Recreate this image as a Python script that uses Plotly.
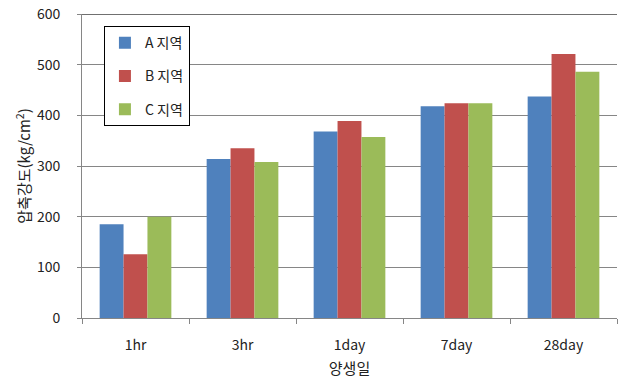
import plotly.graph_objects as go

# Curing age categories and compressive strength per region (kg/cm²)
curing_age = ["1hr", "3hr", "1day", "7day", "28day"]
region_a = [185, 314, 368, 418, 437]
region_b = [126, 335, 389, 424, 521]
region_c = [200, 308, 357, 424, 486]
series_names = ["A 지역", "B 지역", "C 지역"]
y_ticks = [0, 100, 200, 300, 400, 500, 600]

colors = ["#4F81BD", "#C0504D", "#9BBB59"]
font_family = "Noto Sans CJK KR, Noto Sans, DejaVu Sans, sans-serif"

fig = go.Figure()
for i, (name, vals) in enumerate(zip(series_names, [region_a, region_b, region_c])):
    fig.add_trace(go.Bar(
        x=curing_age, y=vals, name=name,
        marker=dict(color=colors[i], line=dict(width=0)),
        legendgroup=name,
    ))

fig.update_layout(
    width=618, height=387,
    margin=dict(l=82, r=1, t=14, b=69),
    paper_bgcolor="white", plot_bgcolor="white",
    barmode="group", bargap=0.33, bargroupgap=0,
    font=dict(family=font_family, size=14, color="#222222"),
    showlegend=True,
    legend=dict(
        x=0.041, y=0.96, xanchor="left", yanchor="top",
        bordercolor="#000000", borderwidth=1, bgcolor="white",
        font=dict(size=14), tracegroupgap=12,
        itemwidth=30,
    ),
    xaxis=dict(
        showgrid=False, showline=True, linecolor="#868686", linewidth=1,
        ticks="outside", ticklen=5, tickcolor="#868686",
        tickson="boundaries", ticklabelstandoff=14,
        title=dict(text="양생일", font=dict(size=15), standoff=10),
    ),
    yaxis=dict(
        range=[0, 600], tickvals=y_ticks,
        showgrid=True, gridcolor="#868686", gridwidth=1,
        showline=True, linecolor="#868686", linewidth=1,
        ticks="outside", ticklen=4, tickcolor="#868686",
        ticklabelstandoff=14, zeroline=False,
        title=dict(text="압축강도(kg/cm<sup>2</sup>)", font=dict(size=15), standoff=2),
    ),
)

# darker frame line along the top of the plot area
fig.add_shape(type="line", xref="paper", yref="y", x0=0, x1=1, y0=600, y1=600,
              line=dict(color="#404040", width=1.5))

fig.write_html("out.html")
